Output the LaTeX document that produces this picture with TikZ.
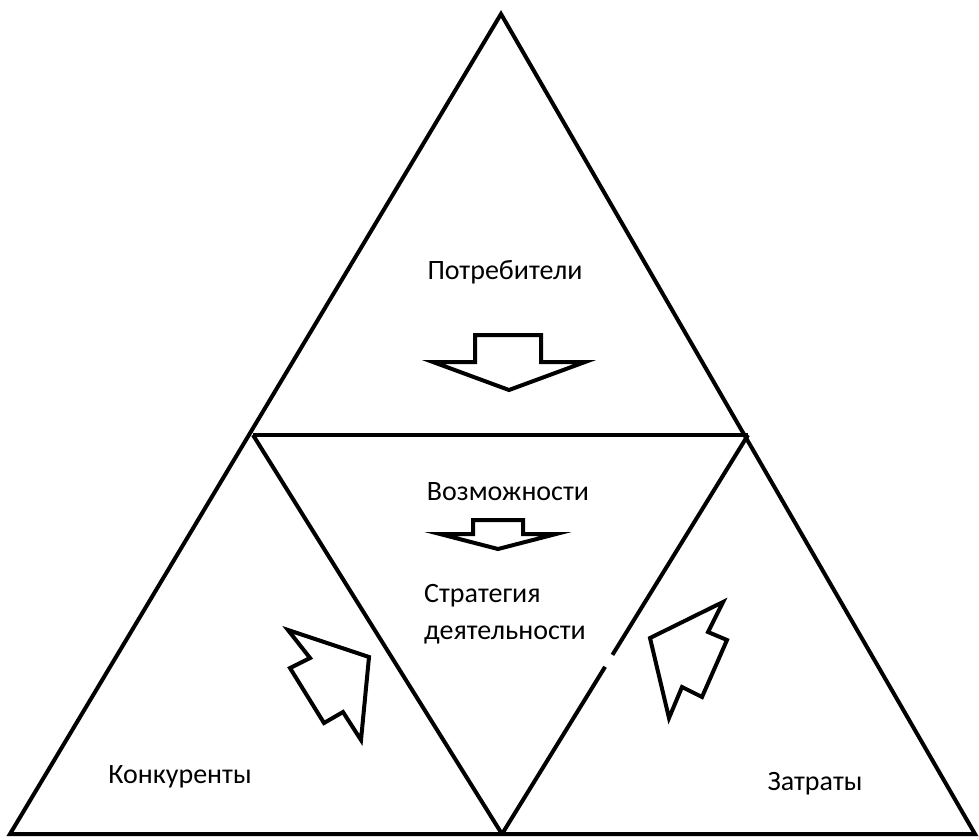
\documentclass[tikz,border=0pt]{standalone}
\usepackage{fontspec}
\setmainfont{Carlito}
\usetikzlibrary{calc}
\begin{document}
\begin{tikzpicture}[x=1pt,y=-1pt,
  edge/.style={line width=4pt, line join=miter, miter limit=20},
  blockarrow/.style={line width=4pt, line join=miter, miter limit=20, fill=white},
  lbl/.style={font=\fontsize{28}{34}\selectfont, inner sep=0pt, anchor=base}]
\useasboundingbox (0,0) rectangle (979,839);
% outer triangle
\coordinate (A) at (501,14);
\coordinate (BL) at (10,834);
\coordinate (BR) at (975,834);
\coordinate (ML) at (253,435);
\coordinate (MR) at (748,435);
\coordinate (MB) at (502,834);
\draw[edge] (A) -- (BR) -- (BL) -- cycle;
\draw[edge] (ML) -- (MR);
\draw[edge] (ML) -- (MB);
% right inner edge with a small gap
\coordinate (G1) at ($(MR)!0.551!(MB)$);
\coordinate (G2) at ($(MR)!0.581!(MB)$);
\draw[edge] (MR) -- (G1);
\draw[edge] (G2) -- (MB);
% arrows
\draw[blockarrow] (475,335) -- (541,335) -- (541,362) -- (585,362) -- (509,390) -- (433,362) -- (475,362) -- cycle;
\draw[blockarrow] (473,520) -- (523,520) -- (523,534) -- (556,534) -- (498,549) -- (440,534) -- (473,534) -- cycle;
\draw[blockarrow] (288,630) -- (369,657) -- (361,740) -- (343,712) -- (324,723) -- (290,668) -- (310,658) -- cycle;
\draw[blockarrow] (723,602) -- (708,632) -- (727,640) -- (702,697) -- (682,687) -- (669,718) -- (650,638) -- cycle;
% labels
\node[lbl] (potr) at (505,279) {Потребители};
\node[lbl] (vozm) at (508,500) {Возможности};
\node[lbl, anchor=base west] (strat) at (424,602) {Стратегия};
\node[lbl, anchor=base west] (deyat) at (424,639) {деятельности};
\node[lbl] (konk) at (180,783) {Конкуренты};
\node[lbl] (zatr) at (815,790) {Затраты};
\end{tikzpicture}
\end{document}
